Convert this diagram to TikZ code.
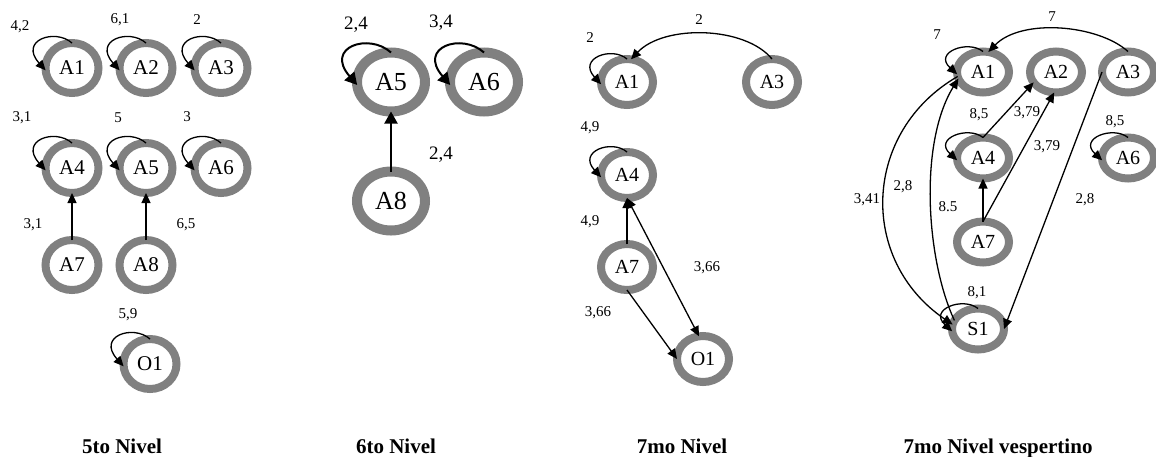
\documentclass[tikz,border=0pt]{standalone}
\usepackage{fontspec}
\setmainfont{Liberation Serif}
\usetikzlibrary{shapes.geometric,arrows.meta,calc}
\begin{document}
\begin{tikzpicture}[x=1pt,y=-1pt,
  ring/.style={ellipse, draw=gray, fill=white, inner sep=0pt, outer sep=0pt},
  nA/.style={ring, line width=8pt, minimum width=53pt, minimum height=50pt, font=\fontsize{21}{24}\selectfont},
  nB/.style={ring, line width=10pt, minimum width=68pt, minimum height=59pt, font=\fontsize{26}{30}\selectfont},
  nC/.style={ring, line width=8pt, minimum width=52pt, minimum height=46pt, font=\fontsize{20}{24}\selectfont},
  nD/.style={ring, line width=8pt, minimum width=52pt, minimum height=41pt, font=\fontsize{20}{24}\selectfont},
  edge/.style={draw=black, line width=1.3pt, -{Triangle[length=10pt,width=9pt]}},
  edgeB/.style={draw=black, line width=2pt, -{Triangle[length=12pt,width=13pt]}},
  lbl/.style={inner sep=0pt, font=\fontsize{15}{18}\selectfont},
  lblB/.style={inner sep=0pt, font=\fontsize{19}{22}\selectfont},
  ttl/.style={anchor=base, inner sep=0pt, font=\fontsize{21}{24}\selectfont\bfseries}]
\useasboundingbox (0,0) rectangle (1156,456);

% ---------- 5to Nivel ----------
\node[nA] (fA1) at (72,68) {A1};
\node[nA] (fA2) at (146,68) {A2};
\node[nA] (fA3) at (221,68) {A3};
\node[nA] (fA4) at (72,168) {A4};
\node[nA] (fA5) at (146,168) {A5};
\node[nA] (fA6) at (221,168) {A6};
\node[nA] (fA7) at (72,265) {A7};
\node[nA] (fA8) at (146,265) {A8};
\node[nA] (fO1) at (150,364) {O1};
\foreach \n in {fA1,fA2,fA3,fA4,fA5,fA6,fO1}
  \draw[edge] (\n.north) .. controls +(-17,-15) and +(-27,-30) .. (\n.185);
\draw[edge] (fA7.north) -- (fA4.south);
\draw[edge] (fA8.north) -- (fA5.south);
\node[lbl] (lf1) at (20,27) {4,2};
\node[lbl] (lf2) at (120,20) {6,1};
\node[lbl] (lf3) at (197,20) {2};
\node[lbl] (lf4) at (22,118) {3,1};
\node[lbl] (lf5) at (118,118) {5};
\node[lbl] (lf6) at (187,117) {3};
\node[lbl] (lf7) at (33,225) {3,1};
\node[lbl] (lf8) at (186,225) {6,5};
\node[lbl] (lf9) at (128,315) {5,9};
\node[ttl] (tf) at (122,453) {5to Nivel};

% ---------- 6to Nivel ----------
\node[nB] (sA5) at (391,82) {A5};
\node[nB] (sA6) at (484,82) {A6};
\node[nB] (sA8) at (391,201) {A8};
\foreach \n in {sA5,sA6}
  \draw[edgeB] (\n.north) .. controls +(-22,-20) and +(-33,-38) .. (\n.185);
\draw[edgeB] (sA8.north) -- (sA5.south);
\node[lblB] (ls1) at (356,25) {2,4};
\node[lblB] (ls2) at (441,23) {3,4};
\node[lblB] (ls3) at (441,155) {2,4};
\node[ttl] (ts) at (396,453) {6to Nivel};

% ---------- 7mo Nivel ----------
\node[nC] (mA1) at (627,82) {A1};
\node[nC] (mA3) at (772,82) {A3};
\node[nC] (mA4) at (627,175) {A4};
\node[nC] (mA7) at (627,267) {A7};
\node[nC] (mO1) at (703,359) {O1};
\foreach \n in {mA1,mA4}
  \draw[edge] (\n.north) .. controls +(-15,-13) and +(-24,-26) .. (\n.185);
\draw[edge] (mA3.north) .. controls +(-27,-33) and +(33,-35) .. (mA1.80);
\draw[edge] (mA7.north) -- (mA4.south);
\draw[edge,{Triangle[length=10pt,width=9pt]}-{Triangle[length=10pt,width=9pt]}] (mA4.south) -- (mO1.100);
\draw[edge] (mA7.south) -- (mO1.west);
\node[lbl] (lm1) at (590,38) {2};
\node[lbl] (lm2) at (699,20) {2};
\node[lbl] (lm3) at (590,128) {4,9};
\node[lbl] (lm4) at (590,222) {4,9};
\node[lbl] (lm5) at (707,268) {3,66};
\node[lbl] (lm6) at (598,313) {3,66};
\node[ttl] (tm) at (682,453) {7mo Nivel};

% ---------- 7mo Nivel vespertino ----------
\node[nD] (vA1) at (983,72) {A1};
\node[nD] (vA2) at (1056,72) {A2};
\node[nD] (vA3) at (1128,72) {A3};
\node[nD] (vA4) at (983,158) {A4};
\node[nD] (vA6) at (1128,158) {A6};
\node[nD] (vA7) at (983,242) {A7};
\node[nD] (vS1) at (978,329) {S1};
\foreach \n in {vA1,vA4,vA6,vS1}
  \draw[edge] (\n.north) .. controls +(-15,-12) and +(-24,-22) .. (\n.185);
\draw[edge] (vA3.north) .. controls +(-30,-27) and +(33,-34) .. (vA1.75);
\draw[edge] (vA4.north) -- (vA2.205);
\draw[edge] (vA7.north) -- (vA2.265);
\draw[edge] (vA7.north) -- (vA4.south);
\draw[edge] (vA3.west) -- (vS1.east);
\draw[edge] (vA1.190) .. controls +(-95,55) and +(-95,-65) .. (vS1.170);
\draw[edge] (vS1.160) .. controls +(-28,-60) and +(-40,65) .. (vA1.195);
\node[lbl] (lv1) at (937,35) {7};
\node[lbl] (lv2) at (1052,17) {7};
\node[lbl] (lv3) at (979,115) {8,5};
\node[lbl] (lv4) at (1027,113) {3,79};
\node[lbl] (lv5) at (1047,147) {3,79};
\node[lbl] (lv6) at (1115,122) {8,5};
\node[lbl] (lv7) at (948,207) {8.5};
\node[lbl] (lv8) at (1085,200) {2,8};
\node[lbl] (lv9) at (867,200) {3,41};
\node[lbl] (lv10) at (903,187) {2,8};
\node[lbl] (lv11) at (977,293) {8,1};
\node[ttl] (tv) at (998,453) {7mo Nivel vespertino};
\end{tikzpicture}
\end{document}
